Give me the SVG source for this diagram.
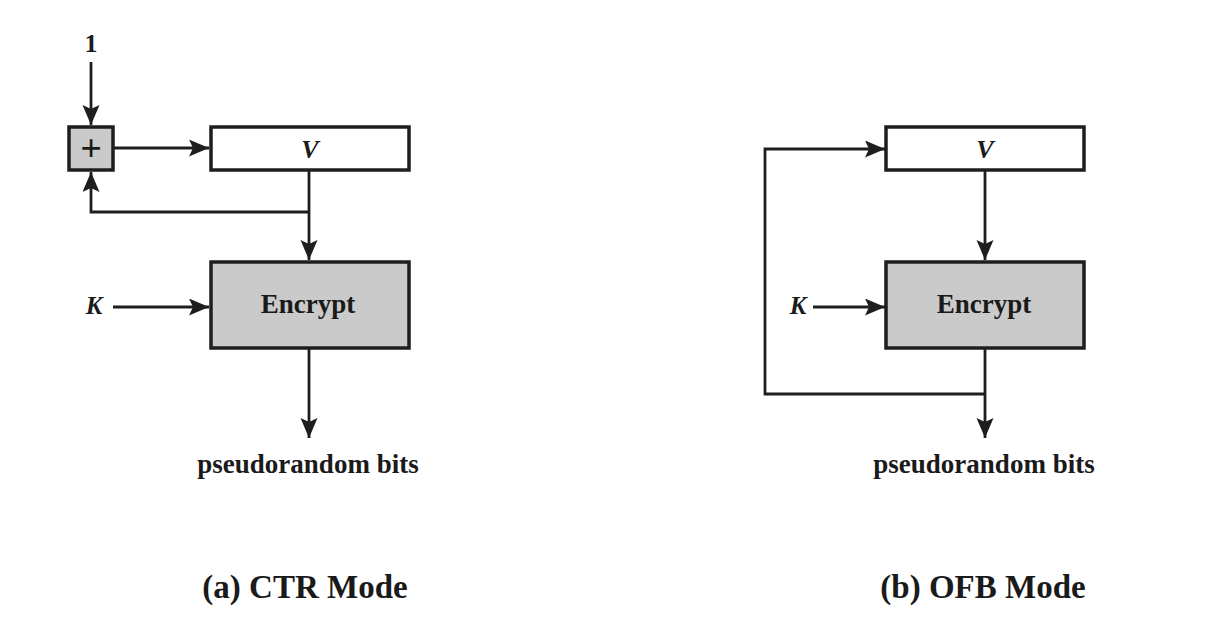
<svg xmlns="http://www.w3.org/2000/svg" width="1208" height="622" viewBox="0 0 1208 622">
<style>
.box{stroke:#1e1e1e;stroke-width:3.5}
.w{fill:#ffffff}
.g{fill:#cacaca}
.ln{fill:none;stroke:#1e1e1e;stroke-width:2.8}
.t{font-family:"Liberation Serif","Times New Roman",serif;font-weight:bold;fill:#1a1a1a;text-anchor:middle}
.i{font-style:italic}
</style>
<defs>
<marker id="ah" markerUnits="userSpaceOnUse" markerWidth="22" markerHeight="18" refX="20" refY="8.5" orient="auto">
<path d="M0,0 L20,8.5 L0,17 L4,8.5 z" fill="#1e1e1e"/>
</marker>
</defs>
<rect width="1208" height="622" fill="#ffffff"/>
<g id="connectors">
<line class="ln" x1="91" y1="62" x2="91" y2="125" marker-end="url(#ah)"/>
<line class="ln" x1="113" y1="148" x2="209" y2="148" marker-end="url(#ah)"/>
<polyline class="ln" points="309,212 91,212 91,172" marker-end="url(#ah)"/>
<line class="ln" x1="309" y1="171" x2="309" y2="260" marker-end="url(#ah)"/>
<line class="ln" x1="113" y1="307" x2="209" y2="307" marker-end="url(#ah)"/>
<line class="ln" x1="309" y1="349" x2="309" y2="438" marker-end="url(#ah)"/>
<line class="ln" x1="985" y1="171" x2="985" y2="260" marker-end="url(#ah)"/>
<line class="ln" x1="813" y1="307" x2="885" y2="307" marker-end="url(#ah)"/>
<line class="ln" x1="985" y1="349" x2="985" y2="438" marker-end="url(#ah)"/>
<polyline class="ln" points="985,394 765,394 765,149 885,149" marker-end="url(#ah)"/>
</g>
<g id="ctr-one"><text class="t" x="91" y="52" font-size="26">1</text></g>
<g id="ctr-plus">
<rect class="box g" x="69" y="127" width="44" height="43"/>
<text class="t" x="91" y="161" font-size="38">+</text>
</g>
<g id="ctr-v">
<rect class="box w" x="211" y="127" width="198" height="43"/>
<text class="t i" x="310" y="158" font-size="26">V</text>
</g>
<g id="ctr-k"><text class="t i" x="94" y="314" font-size="25">K</text></g>
<g id="ctr-encrypt">
<rect class="box g" x="211" y="262" width="198" height="86"/>
<text class="t" x="308" y="313" font-size="27">Encrypt</text>
</g>
<g id="ctr-out"><text class="t" x="308" y="473" font-size="27">pseudorandom bits</text></g>
<g id="ctr-caption"><text class="t" x="305" y="598" font-size="33">(a) CTR Mode</text></g>
<g id="ofb-v">
<rect class="box w" x="886" y="127" width="198" height="43"/>
<text class="t i" x="985" y="158" font-size="26">V</text>
</g>
<g id="ofb-k"><text class="t i" x="798" y="314" font-size="25">K</text></g>
<g id="ofb-encrypt">
<rect class="box g" x="886" y="262" width="198" height="86"/>
<text class="t" x="984" y="313" font-size="27">Encrypt</text>
</g>
<g id="ofb-out"><text class="t" x="984" y="473" font-size="27">pseudorandom bits</text></g>
<g id="ofb-caption"><text class="t" x="983" y="598" font-size="33">(b) OFB Mode</text></g>
</svg>
